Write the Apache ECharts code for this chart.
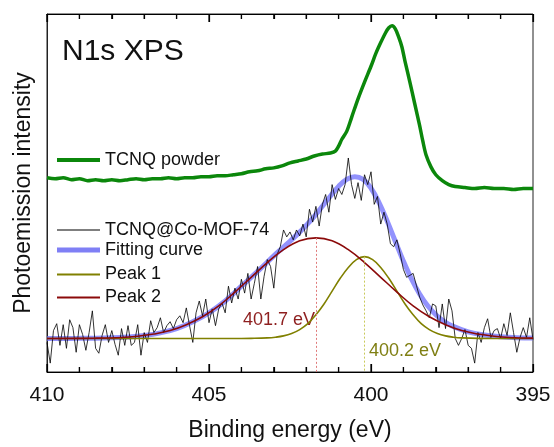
<!DOCTYPE html>
<html>
<head>
<meta charset="utf-8">
<script src="https://cdn.jsdelivr.net/npm/echarts@6.0.0/dist/echarts.min.js"></script>
<style>
	html, body { margin: 0; padding: 0; background: #fff; }
	#main { width: 554px; height: 447px; }
</style>
</head>
<body>
<div id="main"></div>
<script>
//binding energy ticks (eV)
var xTicks = [395, 400, 405, 410];
var xMinorTicks = [396, 397, 398, 399, 401, 402, 403, 404, 406, 407, 408, 409];

//intensity range (arb. units)
var yMin = 0;
var yMax = 363;

//TCNQ powder [eV, intensity]
var powderData = [[410, 197], [409.75, 196], [409.5, 197], [409.25, 195], [409, 196], [408.75, 194], [408.5, 195], [408.25, 194],
	[408, 195], [407.75, 194], [407.5, 195], [407.25, 196], [407, 195], [406.75, 196], [406.5, 196], [406.25, 197], [406, 196],
	[405.75, 197], [405.5, 197], [405.25, 198], [405, 198], [404.75, 199], [404.5, 199], [404.25, 200], [404, 201], [403.75, 203],
	[403.5, 204], [403.25, 206], [403, 207], [402.75, 209], [402.5, 212], [402.25, 214], [402, 216], [401.75, 219], [401.5, 221],
	[401.25, 222], [401.1, 224], [401, 229], [400.9, 236], [400.75, 244], [400.6, 258], [400.4, 277], [400.2, 294], [400, 310],
	[399.85, 323], [399.7, 334], [399.55, 344], [399.45, 349], [399.35, 351], [399.25, 348], [399.15, 340], [399.05, 330],
	[398.95, 315], [398.8, 294], [398.65, 272], [398.5, 250], [398.4, 234], [398.3, 220], [398.15, 208], [398, 200], [397.8, 194],
	[397.6, 190], [397.4, 188], [397.1, 187], [396.8, 186], [396.5, 187], [396.2, 186], [395.9, 186], [395.6, 185], [395.3, 186], [395, 186]];

//TCNQ@Co-MOF-74 measured
var mofData = [[410.0, 30], [409.9, 9], [409.8, 42], [409.7, 49], [409.6, 27], [409.5, 48], [409.4, 24], [409.3, 53], [409.2, 45], [409.1, 20],
	[409.0, 48], [408.9, 38], [408.8, 22], [408.7, 40], [408.6, 62], [408.5, 24], [408.4, 19], [408.3, 37], [408.2, 48], [408.1, 30],
	[408.0, 42], [407.9, 28], [407.8, 17], [407.7, 44], [407.6, 27], [407.5, 47], [407.4, 27], [407.3, 30], [407.2, 48], [407.1, 17],
	[407.0, 40], [406.9, 30], [406.8, 52], [406.7, 40], [406.6, 45], [406.5, 55], [406.4, 40], [406.3, 47], [406.2, 51], [406.1, 44],
	[406.0, 53], [405.9, 57], [405.8, 50], [405.7, 65], [405.6, 47], [405.5, 30], [405.4, 60], [405.3, 72], [405.2, 57], [405.1, 74],
	[405.0, 50], [404.9, 64], [404.8, 47], [404.7, 64], [404.6, 70], [404.5, 60], [404.4, 87], [404.3, 70], [404.2, 85], [404.1, 74],
	[404.0, 94], [403.9, 80], [403.8, 100], [403.7, 74], [403.6, 90], [403.5, 107], [403.4, 74], [403.3, 97], [403.2, 114], [403.1, 107],
	[403.0, 85], [402.9, 119], [402.8, 127], [402.7, 144], [402.6, 137], [402.5, 142], [402.4, 134], [402.3, 144], [402.2, 138], [402.1, 150],
	[402.0, 137], [401.9, 165], [401.8, 152], [401.7, 168], [401.6, 148], [401.5, 170], [401.4, 180], [401.3, 162], [401.2, 190], [401.1, 175],
	[401.0, 186], [400.9, 180], [400.8, 190], [400.7, 217], [400.6, 190], [400.5, 176], [400.4, 192], [400.3, 174], [400.2, 200], [400.1, 190],
	[400.0, 203], [399.9, 170], [399.8, 178], [399.7, 150], [399.6, 162], [399.5, 150], [399.4, 130], [399.3, 127], [399.2, 134], [399.1, 120],
	[399.0, 104], [398.9, 96], [398.8, 98], [398.7, 100], [398.6, 88], [398.5, 76], [398.4, 68], [398.3, 62], [398.2, 55], [398.1, 69],
	[398.0, 67], [397.9, 45], [397.8, 69], [397.7, 44], [397.6, 74], [397.5, 62], [397.4, 34], [397.3, 27], [397.2, 34], [397.1, 43],
	[397.0, 27], [396.9, 24], [396.8, 9], [396.7, 40], [396.6, 30], [396.5, 45], [396.4, 54], [396.3, 35], [396.2, 42], [396.1, 44],
	[396.0, 34], [395.9, 49], [395.8, 37], [395.7, 60], [395.6, 40], [395.5, 20], [395.4, 35], [395.3, 45], [395.2, 35], [395.1, 55],
	[395.0, 33]];

//fitting curve
var fitData = [[410, 34], [409, 34.1], [408, 34.7], [407.5, 35.5], [407, 37], [406.5, 39.7], [406, 44], [405.5, 51], [405, 60],
	[404.5, 72], [404, 87], [403.5, 102], [403, 117.7], [402.75, 125.2], [402.5, 132.6], [402.25, 140.3], [402, 148.7], [401.75, 157.9],
	[401.5, 168], [401.25, 178.5], [401, 188.2], [400.75, 195.3], [400.5, 198.1], [400.25, 195.4], [400, 186.3], [399.75, 171.6],
	[399.5, 153], [399.25, 132.6], [399, 112.4], [398.75, 94.3], [398.5, 79.1], [398.25, 67.1], [398, 58.1], [397.75, 51.5],
	[397.5, 46.8], [397, 40.7], [396.5, 37.5], [396, 35.8], [395.5, 34.8], [395, 34.4]];

//peak 1 (400.2 eV)
var peak1Data = [[410, 34], [404, 34], [403.7, 34.1], [403.2, 34.6], [402.95, 35.3], [402.7, 36.6], [402.45, 39], [402.2, 43],
	[401.95, 49], [401.7, 58], [401.45, 69], [401.2, 82], [400.95, 95], [400.7, 106], [400.45, 114], [400.2, 117], [399.95, 114],
	[399.7, 106], [399.45, 95], [399.2, 82], [398.95, 69], [398.7, 58], [398.45, 49], [398.2, 43], [397.95, 39], [397.7, 36.6],
	[397.45, 35.3], [397.2, 34.6], [396.7, 34.1], [395, 34]];

//peak 2 (401.7 eV)
var peak2Data = [[410, 34], [408.5, 34.3], [407.7, 35], [407.2, 36.3], [406.7, 38.5], [406.2, 42], [405.7, 48], [405.2, 56],
	[404.7, 67], [404.2, 81], [403.7, 96], [403.2, 111], [402.7, 124], [402.2, 133], [401.7, 136], [401.2, 133], [400.7, 124],
	[400.2, 111], [399.7, 96], [399.2, 81], [398.7, 67], [398.2, 56], [397.7, 48], [397.2, 42], [396.7, 38.5], [396.2, 36.3],
	[395.7, 35], [395, 34.3]];

//peak positions [eV, top]
var peak1Top = [400.2, 117];
var peak2Top = [401.7, 136];

var font = 'Liberation Sans, Arial, sans-serif';

function legendItem(name, top, h, color) {
	return {
		data: [name],
		left: 57,
		top: top - h / 2,
		padding: 0,
		icon: 'rect',
		itemWidth: 43,
		itemHeight: h,
		selectedMode: false,
		itemStyle: {
			color: color
		},
		textStyle: {
			fontFamily: font,
			fontSize: 18,
			color: '#111'
		}
	};
}

function vline(p) {
	return [{
		coord: [p[0], p[1]]
	}, {
		coord: [p[0], yMin]
	}];
}

//inward tick marks on the bottom and top frame
function tickSeries(ticks, y, len, dir) {
	return {
		type: 'scatter',
		silent: true,
		clip: false,
		symbol: 'rect',
		symbolSize: [1.2, len],
		symbolOffset: [0, dir * len / 2],
		itemStyle: {
			color: '#000',
			opacity: 1
		},
		data: ticks.map(function(v) {
			return [v, y];
		}),
		z: 1
	};
}

//x axis, bottom one with labels, top one mirrored
function xAxisOf(pos) {
	return {
		type: 'value',
		position: pos,
		min: xTicks[0],
		max: xTicks[xTicks.length - 1],
		interval: 5,
		inverse: true,
		name: pos == 'bottom' ? 'Binding energy (eV)' : null,
		nameLocation: 'middle',
		nameGap: 47,
		nameTextStyle: {
			fontFamily: font,
			fontSize: 23,
			color: '#111'
		},
		axisLine: {
			show: true,
			lineStyle: {
				color: '#000'
			}
		},
		axisTick: {
			show: true,
			inside: true,
			length: 8,
			lineStyle: {
				color: '#000',
				width: 1.2
			}
		},
		minorTick: {
			show: true,
			splitNumber: 5,
			length: 5,
			lineStyle: {
				color: '#000',
				width: 1.2
			}
		},
		axisLabel: {
			show: pos == 'bottom',
			margin: 13,
			fontFamily: font,
			fontSize: 21,
			color: '#111'
		},
		splitLine: {
			show: false
		}
	};
}

var myChart = echarts.init(document.getElementById('main'));
myChart.setOption({
	animation: false,
	grid: {
		left: 47,
		right: 21,
		top: 14,
		bottom: 70,
		show: true,
		borderColor: '#222',
		borderWidth: 1
	},
	legend: [
		legendItem('TCNQ powder', 153, 4, '#0b870b'),
		legendItem('TCNQ@Co-MOF-74', 221.5, 1, '#000'),
		legendItem('Fitting curve', 243.5, 5, '#7f7ff5'),
		legendItem('Peak 1', 266.5, 2, '#808000'),
		legendItem('Peak 2', 289.5, 2, '#8b0a0a')
	],
	graphic: [{
		type: 'text',
		left: 62,
		top: 37,
		style: {
			text: 'N1s XPS',
			fontFamily: font,
			fontSize: 30,
			fill: '#111'
		}
	}, {
		type: 'text',
		left: 243,
		top: 311,
		style: {
			text: peak2Top[0].toFixed(1) + ' eV',
			fontFamily: font,
			fontSize: 18,
			fill: '#8e1f1f'
		}
	}, {
		type: 'text',
		left: 369,
		top: 342,
		style: {
			text: peak1Top[0].toFixed(1) + ' eV',
			fontFamily: font,
			fontSize: 18,
			fill: '#7f7f13'
		}
	}],
	xAxis: [xAxisOf('bottom'), xAxisOf('top')],
	yAxis: {
		type: 'value',
		min: yMin,
		max: yMax,
		name: 'Photoemission intensity',
		nameLocation: 'middle',
		nameGap: 12,
		nameTextStyle: {
			fontFamily: font,
			fontSize: 23,
			color: '#111'
		},
		axisLine: {
			show: true,
			lineStyle: {
				color: '#222'
			}
		},
		axisTick: {
			show: false
		},
		axisLabel: {
			show: false
		},
		splitLine: {
			show: false
		}
	},
	series: [
		tickSeries(xTicks, yMin, 8, -1),
		tickSeries(xMinorTicks, yMin, 5, -1),
		tickSeries(xTicks, yMax, 8, 1),
		tickSeries(xMinorTicks, yMax, 5, 1),
	{
		name: 'Fitting curve',
		type: 'line',
		data: fitData,
		smooth: 0.4,
		showSymbol: false,
		lineStyle: {
			color: 'rgba(100,100,252,0.7)',
			width: 5
		}
	}, {
		name: 'TCNQ@Co-MOF-74',
		type: 'line',
		data: mofData,
		showSymbol: false,
		lineStyle: {
			color: '#000',
			width: 0.8
		}
	}, {
		name: 'Peak 1',
		type: 'line',
		data: peak1Data,
		smooth: 0.4,
		showSymbol: false,
		lineStyle: {
			color: '#808000',
			width: 1.6
		},
		markLine: {
			silent: true,
			symbol: 'none',
			label: {
				show: false
			},
			lineStyle: {
				color: '#c9c95a',
				type: [2, 2],
				width: 1
			},
			data: [vline(peak1Top)]
		}
	}, {
		name: 'Peak 2',
		type: 'line',
		data: peak2Data,
		smooth: 0.4,
		showSymbol: false,
		lineStyle: {
			color: '#8b0a0a',
			width: 1.6
		},
		markLine: {
			silent: true,
			symbol: 'none',
			label: {
				show: false
			},
			lineStyle: {
				color: '#e07a7a',
				type: [2, 2],
				width: 1
			},
			data: [vline(peak2Top)]
		}
	}, {
		name: 'TCNQ powder',
		type: 'line',
		data: powderData,
		smooth: 0.3,
		showSymbol: false,
		lineStyle: {
			color: '#0b870b',
			width: 3.5
		}
	}]
});
</script>
</body>
</html>
